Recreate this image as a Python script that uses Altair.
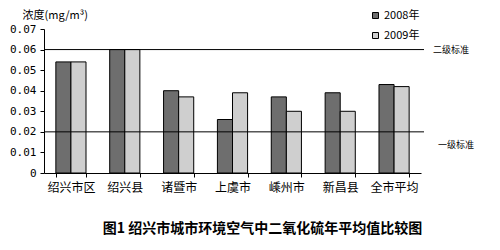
import altair as alt
import pandas as pd

cities = ["绍兴市区", "绍兴县", "诸暨市", "上虞市", "嵊州市", "新昌县", "全市平均"]
years = ["2008年", "2009年"]
v2008 = [0.054, 0.060, 0.040, 0.026, 0.037, 0.039, 0.043]
v2009 = [0.054, 0.060, 0.037, 0.039, 0.030, 0.030, 0.042]
y_ticks = [0, 0.01, 0.02, 0.03, 0.04, 0.05, 0.06, 0.07]
std_values = [0.06, 0.02]
std_labels = ["二级标准", "一级标准"]

rows = []
for c, a, b in zip(cities, v2008, v2009):
    rows.append({"city": c, "year": years[0], "value": a})
    rows.append({"city": c, "year": years[1], "value": b})
df = pd.DataFrame(rows)
std = pd.DataFrame({"v": std_values, "label": std_labels})

CJK = "Noto Sans CJK SC"

y_axis = alt.Axis(values=y_ticks, tickCount=8, tickSize=4, labelFont="DejaVu Sans Mono",
                  labelFontSize=11, labelPadding=4, labelOverlap=False,
                  labelExpr="datum.value == 0 ? '0' : format(datum.value, '.2f')",
                  title="浓度(mg/m³)", titleAngle=0, titleFont=CJK,
                  titleFontSize=11, titleFontWeight="normal",
                  titleAlign="left", titleBaseline="middle",
                  titleX=-22, titleY=-14)
y_scale = alt.Scale(domain=[0, 0.07])

bars = alt.Chart(df).mark_bar(stroke="black", strokeWidth=1).encode(
    x=alt.X("city:N", sort=cities, title=None,
            scale=alt.Scale(paddingInner=0.44, paddingOuter=0.22),
            axis=alt.Axis(labelAngle=0, tickBand="extent", tickSize=4,
                          labelFont=CJK, labelFontSize=12, labelPadding=5)),
    xOffset=alt.XOffset("year:N", sort=years),
    y=alt.Y("value:Q", scale=y_scale, axis=y_axis),
    color=alt.Color("year:N", sort=years,
                    scale=alt.Scale(domain=years, range=["#6e6e6e", "#cfcfcf"]),
                    legend=alt.Legend(title=None, orient="none", legendX=326, legendY=-19,
                                      symbolType="square", symbolSize=36,
                                      symbolStrokeColor="black", symbolStrokeWidth=1,
                                      labelFont=CJK, labelFontSize=11, rowPadding=8,
                                      labelOffset=3)),
)

rules = alt.Chart(std).mark_rule(color="black", strokeWidth=1).encode(
    y=alt.Y("v:Q", scale=y_scale, axis=y_axis), x=alt.value(0), x2=alt.value(380)
)

lab2 = alt.Chart(std).transform_filter(alt.datum.v == 0.06).mark_text(
    font=CJK, fontSize=9, align="left", baseline="middle", color="black"
).encode(y=alt.Y("v:Q", scale=y_scale, axis=y_axis), x=alt.value(389), text="label:N")

lab1 = alt.Chart(std).transform_filter(alt.datum.v == 0.02).mark_text(
    font=CJK, fontSize=9, align="left", baseline="middle", color="black", dy=13
).encode(y=alt.Y("v:Q", scale=y_scale, axis=y_axis), x=alt.value(394), text="label:N")

chart = alt.layer(bars, rules, lab2, lab1).properties(
    width=377, height=144,
    padding={"left": 44, "top": 29, "right": 79, "bottom": 77},
    autosize=alt.AutoSizeParams(type="none"),
    title=alt.TitleParams("图1  绍兴市城市环境空气中二氧化硫年平均值比较图", orient="bottom",
                          anchor="middle", font=CJK, fontSize=14, fontWeight="bold",
                          color="black", dx=30, offset=29),
    background="white",
).configure_view(stroke=None).configure_axis(
    domainColor="black", tickColor="black", labelColor="black", titleColor="black", grid=False
)

chart.save("out.html", embed_options={"renderer": "svg", "actions": False})
